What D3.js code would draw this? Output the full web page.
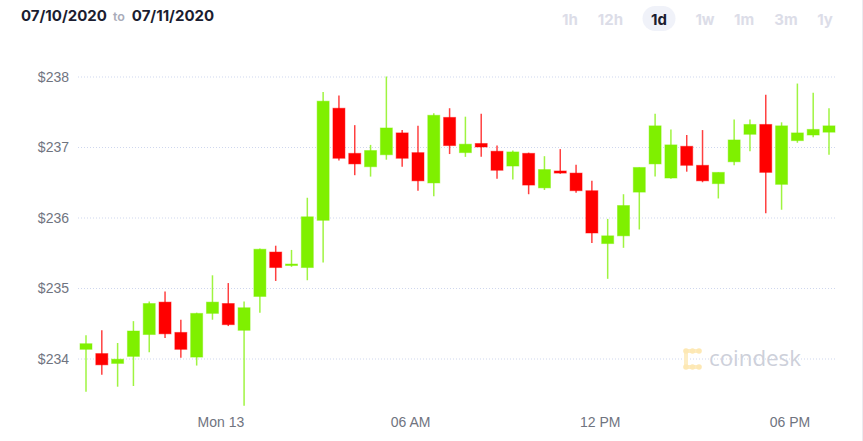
<!DOCTYPE html>
<html>
<head>
<meta charset="utf-8">
<script src="https://cdn.jsdelivr.net/npm/d3@7"></script>
<style>
  html, body { margin: 0; padding: 0; background: #fff; }
  svg { display: block; font-family: "Liberation Sans", Arial, sans-serif; }
</style>
</head>
<body>
<svg id="chart" width="863" height="441"></svg>
<script>
// 30-minute candles, 07/12 19:45 UTC -> 07/13 19:15 UTC
const startTime = '2020-07-12T19:45:00Z';
const endTime   = '2020-07-13T19:15:00Z';

const opens  = [234.13, 234.07, 233.93, 234.03, 234.34, 234.80, 234.37, 234.02, 234.64, 234.78,
                234.40, 234.88, 235.51, 235.32, 235.29, 235.96, 237.55, 236.91, 236.72, 236.89,
                237.20, 236.92, 236.49, 237.42, 236.92, 237.05, 236.94, 236.73, 236.91, 236.42,
                236.66, 236.63, 236.38, 235.63, 235.74, 236.36, 236.76, 236.56, 237.01, 236.74,
                236.48, 236.79, 237.18, 237.32, 236.47, 237.09, 237.17, 237.21];
const highs  = [234.33, 234.40, 234.22, 234.53, 234.81, 234.95, 234.55, 234.65, 235.18, 235.07,
                234.81, 235.56, 235.60, 235.54, 236.28, 237.78, 237.73, 237.31, 237.03, 238.00,
                237.24, 237.30, 237.48, 237.55, 237.43, 237.47, 237.02, 236.95, 236.92, 236.87,
                236.97, 236.75, 236.52, 235.98, 236.33, 236.71, 237.47, 237.25, 237.17, 237.24,
                236.64, 237.39, 237.39, 237.74, 237.35, 237.90, 237.77, 237.55];
const lows   = [233.53, 233.77, 233.60, 233.61, 234.09, 234.29, 234.01, 233.90, 234.55, 234.46,
                233.33, 234.65, 235.10, 235.30, 235.11, 235.36, 236.81, 236.60, 236.58, 236.82,
                236.72, 236.38, 236.30, 236.90, 236.86, 236.86, 236.55, 236.54, 236.33, 236.39,
                236.62, 236.35, 235.64, 235.13, 235.57, 235.83, 236.58, 236.55, 236.65, 236.50,
                236.27, 236.74, 236.94, 236.06, 236.11, 237.06, 237.14, 236.89];
const closes = [234.21, 233.91, 233.99, 234.39, 234.78, 234.35, 234.13, 234.64, 234.80, 234.48,
                234.72, 235.55, 235.29, 235.34, 236.01, 237.65, 236.84, 236.76, 236.95, 237.27,
                236.84, 236.52, 237.45, 237.02, 237.04, 237.00, 236.67, 236.93, 236.46, 236.68,
                236.63, 236.38, 235.78, 235.74, 236.17, 236.71, 237.30, 237.03, 236.74, 236.52,
                236.64, 237.10, 237.32, 236.64, 237.30, 237.20, 237.25, 237.30];

const yTicks = [234, 235, 236, 237, 238];
const xTickLabels = ['Mon 13', '06 AM', '12 PM', '06 PM'];
const ranges = ['1h', '12h', '1d', '1w', '1m', '3m', '1y'];
const activeRange = '1d';

const UP = '#7ff000', DOWN = '#ff0000';

const t0 = new Date(startTime), t1 = new Date(endTime);
const times = d3.utcMinutes(t0, d3.utcMinute.offset(t1, 1), 30);
const candles = times.map((t, i) => ({ t, o: opens[i], h: highs[i], l: lows[i], c: closes[i] }));

const svg = d3.select('#chart');

const x = d3.scaleUtc().domain([t0, t1]).range([86, 829]);
const y = d3.scaleLinear().domain([234, 238]).range([358.5, 76.5]);

// right border
svg.append('line')
  .attr('x1', 862.5).attr('x2', 862.5).attr('y1', 0).attr('y2', 441)
  .attr('stroke', '#ebebf0');

// header
const head = svg.append('text').attr('x', 21).attr('y', 21)
  .attr('font-family', 'Inter, "Open Sans", sans-serif');
head.append('tspan').attr('font-size', 15).attr('font-weight', 700).attr('fill', '#1b1d30').text('07/10/2020');
head.append('tspan').attr('dx', 6).attr('font-size', 12.5).attr('font-weight', 600).attr('fill', '#a9acba').text('to');
head.append('tspan').attr('dx', 7).attr('font-size', 15).attr('font-weight', 700).attr('fill', '#1b1d30').text('07/11/2020');

const btnX = d3.scalePoint().domain(ranges).range([570, 825]);
const btnCenters = { '1h': 570, '12h': 610.5, '1d': 659, '1w': 705, '1m': 744, '3m': 786, '1y': 825 };
svg.append('rect')
  .attr('x', btnCenters[activeRange] - 16.5).attr('y', 6).attr('width', 33).attr('height', 25)
  .attr('rx', 12.5).attr('fill', '#f0f2f9');
svg.append('g').selectAll('text').data(ranges).join('text')
  .attr('x', d => btnCenters[d] ?? btnX(d)).attr('y', 25)
  .attr('text-anchor', 'middle')
  .attr('font-family', 'Inter, "Open Sans", sans-serif')
  .attr('font-size', 15).attr('font-weight', 700)
  .attr('fill', d => d === activeRange ? '#1b1d30' : '#dcdde8')
  .text(d => d);

// grid + y labels
const yAxis = svg.append('g').attr('transform', 'translate(78,0)')
  .call(d3.axisLeft(y).tickValues(yTicks).tickSize(-759).tickFormat(d => '$' + d));
yAxis.select('.domain').remove();
yAxis.selectAll('.tick line')
  .attr('stroke', '#cfd7ee').attr('stroke-dasharray', '1,2');
yAxis.selectAll('.tick text')
  .attr('x', -9).attr('dy', '0.35em')
  .attr('font-size', 14).attr('fill', '#70747f')
  .attr('font-family', '"Liberation Sans", Arial, sans-serif');

// x labels
const xTicks = x.ticks(d3.utcHour.every(6));
const xAxis = svg.append('g').attr('transform', 'translate(0,410)')
  .call(d3.axisBottom(x).tickValues(xTicks).tickSize(0).tickFormat((d, i) => xTickLabels[i]));
xAxis.select('.domain').remove();
xAxis.selectAll('.tick text')
  .attr('dy', 14).attr('font-size', 14).attr('fill', '#70747f')
  .attr('font-family', '"Liberation Sans", Arial, sans-serif');

// watermark
const wm = svg.append('g').attr('transform', 'translate(683,348)');
wm.append('path')
  .attr('d', 'M16,3 H3 V19 H16')
  .attr('fill', 'none').attr('stroke', '#fdedc4').attr('stroke-width', 4).attr('stroke-linejoin', 'round');
wm.selectAll('circle').data([[3, 3], [16, 3], [3, 19], [16, 19], [9.5, 3], [9.5, 19]]).join('circle')
  .attr('cx', d => d[0]).attr('cy', d => d[1]).attr('r', 2.8).attr('fill', '#fde8b4');
svg.append('text').attr('x', 709).attr('y', 366)
  .attr('font-family', '"Open Sans", "Noto Sans", sans-serif')
  .attr('font-size', 22.5).attr('fill', '#cdd0da')
  .attr('textLength', 92).attr('lengthAdjust', 'spacingAndGlyphs')
  .text('coindesk');

// candles
const bw = 12;
const g = svg.append('g');
const color = d => d.c >= d.o ? UP : DOWN;

g.selectAll('line.wick').data(candles).join('line')
  .attr('class', 'wick')
  .attr('x1', d => x(d.t)).attr('x2', d => x(d.t))
  .attr('y1', d => y(d.h)).attr('y2', d => y(d.l))
  .attr('stroke', color).attr('stroke-width', 1.5).attr('stroke-opacity', 0.75);

g.selectAll('rect.body').data(candles).join('rect')
  .attr('class', 'body')
  .attr('x', d => x(d.t) - bw / 2)
  .attr('y', d => y(Math.max(d.o, d.c)))
  .attr('width', bw)
  .attr('height', d => Math.max(1.5, Math.abs(y(d.o) - y(d.c))))
  .attr('fill', color)
  .attr('stroke', color).attr('stroke-opacity', 0.45).attr('stroke-width', 1);
</script>
</body>
</html>
